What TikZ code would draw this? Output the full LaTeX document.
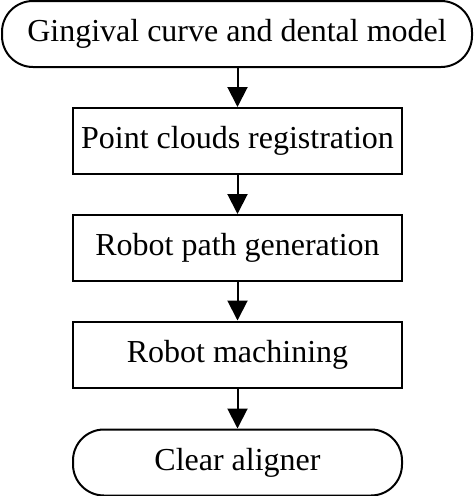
\documentclass[tikz,border=0pt]{standalone}
\usepackage{fontspec}
\setmainfont{Liberation Serif}
\usetikzlibrary{arrows.meta}
\begin{document}
\begin{tikzpicture}[x=1pt,y=-1pt,
  base/.style={draw=black, line width=2pt, minimum height=66pt, inner sep=0pt, font=\fontsize{32}{36}\selectfont},
  stadium/.style={base, rounded corners=31pt},
  stepbox/.style={base, minimum width=329pt},
  conn/.style={line width=2pt, -{Triangle[width=20pt,length=20pt]}}]
\useasboundingbox (0,0) rectangle (475,496);
\node[stadium, minimum width=470pt] (n1) at (237,34) {Gingival curve and dental model};
\node[stepbox] (n2) at (237.5,141) {Point clouds registration};
\node[stepbox] (n3) at (237.5,248) {Robot path generation};
\node[stepbox] (n4) at (237.5,354.5) {Robot machining};
\node[stadium, minimum width=329pt] (n5) at (237.5,462.5) {Clear aligner};
\draw[conn] (n1.south -| n2.north) -- (n2.north);
\draw[conn] (n2) -- (n3);
\draw[conn] (n3) -- (n4);
\draw[conn] (n4) -- (n5);
\end{tikzpicture}
\end{document}
